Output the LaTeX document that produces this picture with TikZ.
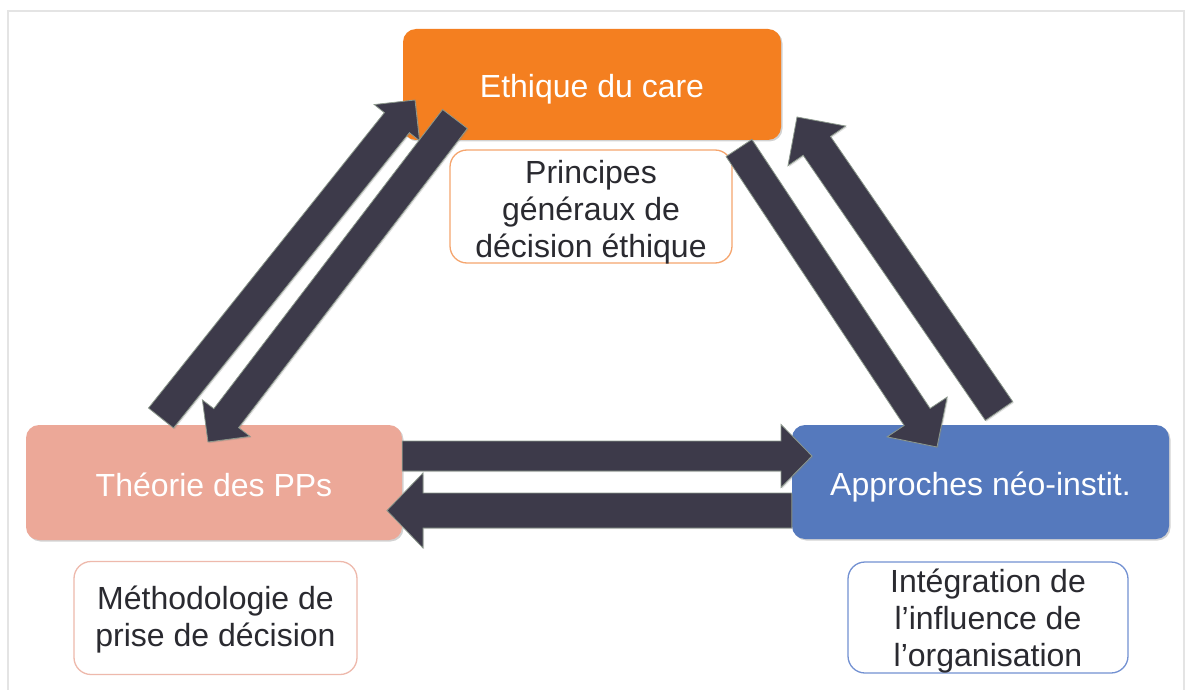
\documentclass[tikz,border=0pt]{standalone}
\usepackage{fontspec}
\setmainfont{Liberation Sans}
\usetikzlibrary{calc,shadows}
\definecolor{corange}{RGB}{244,127,32}
\definecolor{csalmon}{RGB}{236,168,152}
\definecolor{cblue}{RGB}{85,121,189}
\definecolor{corangelt}{RGB}{245,165,110}
\definecolor{csalmonlt}{RGB}{238,185,172}
\definecolor{cbluelt}{RGB}{115,145,210}
\definecolor{carrow}{RGB}{61,58,74}
\definecolor{carrowedge}{RGB}{140,152,140}
\definecolor{ctext}{RGB}{42,42,48}
\definecolor{cframe}{RGB}{228,228,228}
\tikzset{
  mainbox/.style={rounded corners=13pt, inner sep=0pt, text=white,
    font=\fontsize{32}{37}\selectfont, text height=27pt, text depth=0pt,
    drop shadow={shadow xshift=1.5pt, shadow yshift=-1.5pt, opacity=0.35}},
  subbox/.style={rounded corners=17pt, fill=white, line width=1.3pt, inner sep=0pt},
  subtext/.style={text=ctext, align=center, inner sep=0pt,
    font=\fontsize{32}{37}\selectfont},
  arrowfill/.style={fill=carrow, draw=carrowedge, line width=0.8pt, line join=miter,
    drop shadow={shadow xshift=1.2pt, shadow yshift=-1.2pt, opacity=0.25}},
}
% #1 tail, #2 tip, #3 half shaft width, #4 half head width, #5 head length
\newcommand\blkarrow[5]{%
  \coordinate (hdx) at ($(#2)!#5!(#1)$);
  \path[arrowfill] ($(#1)!#3!90:(#2)$) -- ($(hdx)!#3!-90:(#1)$) -- ($(hdx)!#4!-90:(#1)$)
    -- (#2) -- ($(hdx)!#4!90:(#1)$) -- ($(hdx)!#3!90:(#1)$) -- ($(#1)!#3!-90:(#2)$) -- cycle;
}
\begin{document}
\begin{tikzpicture}[x=1pt,y=-1pt]
\useasboundingbox (0,0) rectangle (1186,690);
\fill[white] (0,0) rectangle (1186,690);
\draw[cframe, line width=1.5pt] (8,690) -- (8,11) -- (1184,11) -- (1184,690);

% main boxes
\node[mainbox, fill=corange, minimum width=378pt, minimum height=111pt] (care) at (592,84.5) {Ethique du care};
\node[mainbox, fill=csalmon, minimum width=376pt, minimum height=115pt] (pp) at (214,482.5) {Théorie des PPs};
\node[mainbox, fill=cblue, minimum width=377pt, minimum height=114pt] (neo) at (980.5,482) {Approches néo-instit.};

% sub boxes
\node[subbox, draw=corangelt, minimum width=282pt, minimum height=113pt] (prinbox) at (591,206.5) {};
\node[subtext] (prin) at (591,212) {Principes\\généraux de\\décision éthique};
\node[subbox, draw=csalmonlt, minimum width=283pt, minimum height=113pt] (methbox) at (215.5,618) {};
\node[subtext] (meth) at (215.5,620) {Méthodologie de\\prise de décision};
\node[subbox, draw=cbluelt, minimum width=280pt, minimum height=111pt] (intbox) at (988,617.5) {};
\node[subtext] (int) at (988,621) {Intégration de\\l’influence de\\l’organisation};

% arrow end points
\coordinate (a1s) at (161,418);   \coordinate (a1e) at (415,100);
\coordinate (a2s) at (455,119);   \coordinate (a2e) at (208,442);
\coordinate (a3s) at (739,148);   \coordinate (a3e) at (937,447);
\coordinate (a4s) at (999,411);   \coordinate (a4e) at (797,117);
\coordinate (a5s) at (pp.east |- 0,456);  \coordinate (a5e) at (812,456);
\coordinate (a6s) at (neo.west |- 0,510.5); \coordinate (a6e) at (387,510.5);

\blkarrow{a1s}{a1e}{16pt}{29pt}{29pt}
\blkarrow{a2s}{a2e}{15.6pt}{30pt}{30pt}
\blkarrow{a3s}{a3e}{15.5pt}{36pt}{36pt}
\blkarrow{a4s}{a4e}{16.6pt}{35pt}{35pt}
\blkarrow{a5s}{a5e}{15pt}{31.5pt}{31pt}
\blkarrow{a6s}{a6e}{17.5pt}{37.5pt}{36pt}
\end{tikzpicture}
\end{document}
